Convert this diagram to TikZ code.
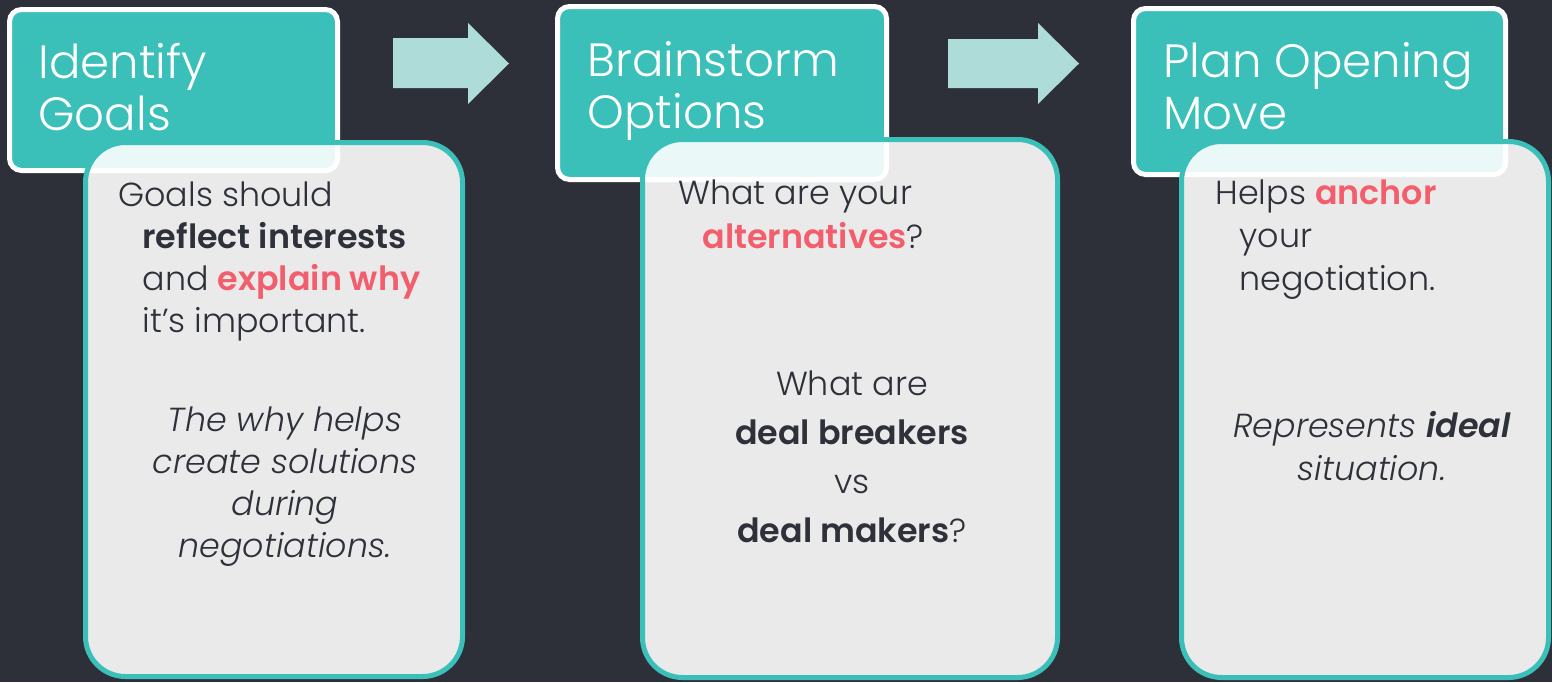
\documentclass[tikz,border=0pt]{standalone}
\usepackage{fontspec}
\setmainfont{Poppins Light}[BoldFont=Poppins SemiBold, ItalicFont=Poppins Light Italic, BoldItalicFont=Poppins SemiBold Italic]
\usetikzlibrary{positioning}

\definecolor{slate}{RGB}{46,48,57}
\definecolor{stepteal}{RGB}{59,191,185}
\definecolor{arrowmint}{RGB}{173,220,217}
\definecolor{hotpink}{RGB}{243,94,108}
\definecolor{ink}{RGB}{46,49,57}

\tikzset{every picture/.style={line width=0.75pt}}
\tikzset{
  headbox/.style={draw=white, line width=3.75pt, fill=stepteal, rounded corners=9pt},
  card/.style={draw=stepteal, line width=3.75pt, fill=white, fill opacity=0.9, rounded corners=30pt},
  flow/.style={fill=arrowmint},
  title/.style={anchor=base west, inner sep=0pt, text=white, align=left, font=\fontsize{35}{39}\selectfont},
  body/.style={anchor=base west, inner sep=0pt, text=ink, align=left, font=\fontsize{25}{32}\selectfont},
  note/.style={anchor=base, inner sep=0pt, text=ink, align=center, font=\fontsize{25}{31.5}\selectfont\itshape},
}
\newcommand{\hi}[1]{\textcolor{hotpink}{\textbf{#1}}}
\newcommand{\ind}{\hspace*{18pt}}

\begin{document}
\begin{tikzpicture}[x=0.75pt,y=0.75pt,yscale=-1,xscale=1]
\useasboundingbox (0,0) rectangle (1552,682);
%Background
\fill [slate] (0,0) rectangle (1552,682);

%Shape: Block Arrow [id:arrow1]
\fill [flow] (393,38) -- (468,38) -- (468,23) -- (509,63.5) -- (468,104) -- (468,88) -- (393,88) -- cycle ;
%Shape: Block Arrow [id:arrow2]
\fill [flow] (948,39) -- (1038,39) -- (1038,23) -- (1079,63.5) -- (1038,104) -- (1038,88) -- (948,88) -- cycle ;

%Shape: Rounded Rect [id:head1]
\draw [headbox] (9.5,9.5) rectangle (337.5,170.5) ;
%Shape: Rounded Rect [id:head2]
\draw [headbox] (557.5,6.5) rectangle (886.5,179.5) ;
%Shape: Rounded Rect [id:head3]
\draw [headbox] (1133.5,8.5) rectangle (1505.5,174.5) ;

%Shape: Rounded Rect [id:card1]
\draw [card] (85.5,142.5) rectangle (462.5,676.5) ;
%Shape: Rounded Rect [id:card2]
\draw [card] (642.5,139.5) rectangle (1057.5,677.5) ;
%Shape: Rounded Rect [id:card3]
\draw [card] (1181.5,141.5) rectangle (1548.5,677.5) ;

% Text Node (base = last line)
\draw (38,130) node [title] (idTitle) {Identify\\Goals};
% Text Node
\draw (587,128) node [title] (bsTitle) {Brainstorm\\Options};
% Text Node
\draw (1163,129) node [title] (poTitle) {Plan Opening\\Move};

% Text Node
\draw (118,332) node [body, font=\fontsize{25}{31.5}\selectfont] (goalsText) {Goals should\\\ind\textbf{reflect interests}\\\ind and \hi{explain why}\\\ind it’s important.};
% Text Node
\draw (285,557) node [note] (whyText) {The why helps\\create solutions\\during\\negotiations.};

% Text Node
\draw (678,248) node [body, font=\fontsize{25}{33}\selectfont] (altText) {What are your\\\ind\hi{alternatives}?};
% Text Node
\draw (852,542) node [note, font=\fontsize{25}{36.75}\selectfont\upshape] (dealText) {What are\\\textbf{deal breakers}\\vs\\\textbf{deal makers}?};

% Text Node
\draw (1215,290) node [body] (anchorText) {Helps \hi{anchor}\\\ind your\\\ind negotiation.};
% Text Node
\draw (1372,480) node [note, font=\fontsize{25}{32}\selectfont\itshape] (idealText) {Represents \textbf{ideal}\\situation.};

\end{tikzpicture}
\end{document}
